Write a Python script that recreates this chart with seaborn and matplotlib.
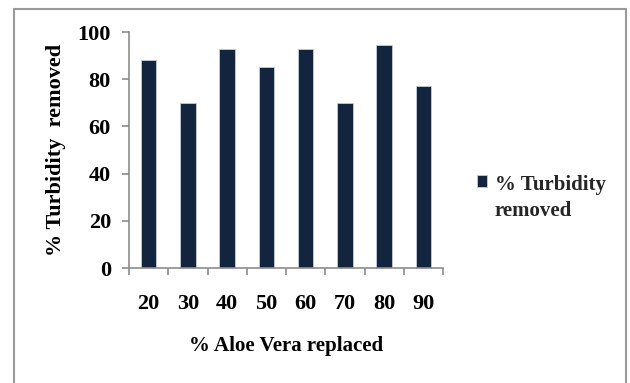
import matplotlib
matplotlib.use("Agg")
import matplotlib.pyplot as plt
from matplotlib.lines import Line2D
import seaborn as sns
import pandas as pd

# Data
aloe_replaced = ["20", "30", "40", "50", "60", "70", "80", "90"]
turbidity_removed = [88, 70, 93, 85, 93, 70, 94.5, 77]

sns.set_theme(style="white")
plt.rcParams["font.family"] = ["Liberation Serif", "DejaVu Serif"]
plt.rcParams["font.weight"] = "bold"

bar_color = "#13243f"
axis_color = "#8c8c8c"
fs = 16

fig = plt.figure(figsize=(6.3, 3.83), dpi=100)
ax = fig.add_axes([129 / 630, 1 - 268 / 383, 314 / 630, 236 / 383])

df = pd.DataFrame({"replaced": aloe_replaced, "removed": turbidity_removed})
sns.barplot(data=df, x="replaced", y="removed", color=bar_color, width=0.4,
            saturation=1, edgecolor="#c8ccd4", linewidth=0.6,
            label="% Turbidity\nremoved", ax=ax)

ax.set_ylim(0, 100)
ax.set_xlim(-0.5, len(aloe_replaced) - 0.5)
ax.set_yticks([0, 20, 40, 60, 80, 100])

# Spines
for side in ("top", "right"):
    ax.spines[side].set_visible(False)
for side in ("left", "bottom"):
    ax.spines[side].set_color(axis_color)
    ax.spines[side].set_linewidth(1.2)

# Ticks: labels at category centres, tick marks at category boundaries
ax.set_xticks([i - 0.5 for i in range(len(aloe_replaced) + 1)], minor=True)
ax.tick_params(axis="x", which="major", length=0, pad=19, labelsize=fs,
               labelcolor="black")
ax.tick_params(axis="x", which="minor", direction="out", length=5,
               width=1.2, color=axis_color, bottom=True)
ax.tick_params(axis="y", which="major", direction="out", length=5,
               width=1.2, color=axis_color, left=True, pad=8,
               labelsize=fs, labelcolor="black")
for lbl in ax.get_xticklabels() + ax.get_yticklabels():
    lbl.set_fontweight("bold")

ax.set_xlabel("% Aloe Vera replaced", fontsize=15, fontweight="bold",
              color="black")
ax.set_ylabel("% Turbidity  removed", fontsize=fs, fontweight="bold",
              color="black")
ax.xaxis.set_label_coords(0.5, -0.29)
ax.yaxis.set_label_coords(-0.2, 0.5)

leg = ax.legend(loc="center left", bbox_to_anchor=(477 / 630, 1 - 198 / 383),
                bbox_transform=fig.transFigure, frameon=False,
                prop={"size": 15, "weight": "bold"},
                handlelength=0.5, handleheight=0.5, handletextpad=0.35,
                borderpad=0, borderaxespad=0)
for txt in leg.get_texts():
    txt.set_linespacing(1.4)
# keep the swatch level with the first line of the label
leg._legend_handle_box.get_children()[0].get_children()[0].align = "top"

# Outer frame around the chart area
W, H = 630, 383
frame_kw = dict(color="#9a9a9a", linewidth=1.5, transform=fig.transFigure)
x0, x1, y0 = 13.5 / W, 626 / W, 1 - 8.5 / H
fig.add_artist(Line2D([x0, x1], [y0, y0], **frame_kw))
fig.add_artist(Line2D([x0, x0], [y0, 0], **frame_kw))
fig.add_artist(Line2D([x1, x1], [y0, 0], **frame_kw))

fig.savefig("out.png", dpi=100, facecolor="white")
